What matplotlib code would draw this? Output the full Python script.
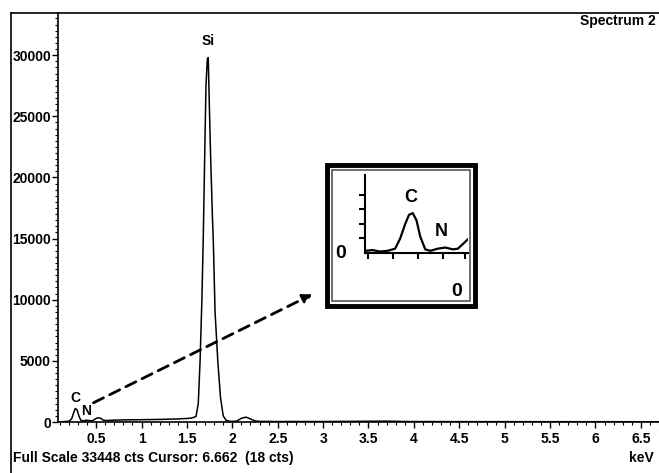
import numpy as np
import matplotlib.pyplot as plt
from matplotlib.patches import Rectangle
from matplotlib.lines import Line2D
from matplotlib.ticker import MultipleLocator

plt.rcParams['font.family'] = ['Liberation Sans Narrow', 'Liberation Sans', 'DejaVu Sans']
plt.rcParams['font.weight'] = 'bold'

# spectrum (keV, counts)
energy = [0.08, 0.12, 0.16, 0.20, 0.23, 0.25, 0.27, 0.29, 0.31, 0.33, 0.36, 0.39,
          0.42, 0.46, 0.49, 0.52, 0.55, 0.58, 0.62, 0.70, 0.80, 0.90, 1.00, 1.10,
          1.20, 1.30, 1.40, 1.50, 1.55, 1.60, 1.625, 1.645, 1.665, 1.68, 1.70,
          1.71, 1.725, 1.735, 1.745, 1.76, 1.78, 1.79, 1.81, 1.84, 1.87, 1.90,
          1.93, 1.97, 2.00, 2.05, 2.10, 2.15, 2.20, 2.25, 2.30, 2.50, 3.00,
          3.50, 3.70, 3.90, 4.50, 5.00, 5.50, 6.00, 6.50, 6.70]
counts = [0, 20, 40, 60, 250, 700, 1100, 1000, 500, 150, 80, 150,
          120, 100, 250, 350, 300, 150, 120, 150, 170, 180, 190, 200,
          210, 230, 250, 290, 320, 450, 1500, 5000, 10000, 15000, 23500,
          27500, 29700, 29800, 26500, 22000, 17000, 15000, 9000, 5000, 2000, 500,
          150, 60, 50, 80, 300, 400, 250, 90, 50, 40, 40,
          60, 70, 40, 30, 30, 25, 25, 20, 20]

# zoomed C / N region shown in the inset
inset_energy = [0.09, 0.12, 0.15, 0.18, 0.21, 0.23, 0.25, 0.265, 0.28, 0.295, 0.31,
                0.33, 0.35, 0.38, 0.41, 0.44, 0.46, 0.48, 0.50]
inset_counts = [60, 80, 40, 60, 120, 400, 800, 1050, 1100, 900, 450,
                100, 60, 120, 150, 100, 120, 250, 380]

fig = plt.figure(figsize=(6.59, 4.73), dpi=100)
W, H = 659, 473


def fx(px):
    return px / W


def fy(py):
    return 1 - py / H


ax = fig.add_axes([fx(58), fy(422), fx(659) - fx(58), fy(13) - fy(422)])
ax.plot(energy, counts, color='black', lw=1.1)
ax.set_xlim(0.08, 6.7)
ax.set_ylim(0, 33448)
for s in ['top', 'right']:
    ax.spines[s].set_visible(False)
ax.spines['left'].set_linewidth(1.2)
ax.spines['bottom'].set_linewidth(1.2)
ax.xaxis.set_minor_locator(MultipleLocator(0.1))
ax.yaxis.set_major_locator(MultipleLocator(5000))
ax.yaxis.set_minor_locator(MultipleLocator(500))
ax.set_xticks([0.5, 1, 1.5, 2, 2.5, 3, 3.5, 4, 4.5, 5, 5.5, 6, 6.5])
ax.set_xticklabels(['0.5', '1', '1.5', '2', '2.5', '3', '3.5', '4', '4.5', '5',
                    '5.5', '6', '6.5'])
ax.tick_params(which='major', length=4, width=1, labelsize=10, pad=3)
ax.tick_params(axis='y', which='major', pad=1)
ax.tick_params(which='minor', length=2, width=0.8)

ax.text(1.73, 30600, 'Si', ha='center', va='bottom', fontsize=10)
ax.text(0.27, 1350, 'C', ha='center', va='bottom', fontsize=10)
ax.text(0.39, 350, 'N', ha='center', va='bottom', fontsize=10)

# outer frame
fig.add_artist(Line2D([fx(11), 1], [fy(13), fy(13)], color='black', lw=1.2))
fig.add_artist(Line2D([fx(11), fx(11)], [fy(13), 0], color='black', lw=1.2))
fig.text(0.995, fy(21), 'Spectrum 2', ha='right', va='center', fontsize=10)
fig.text(fx(13), fy(458), 'Full Scale 33448 cts Cursor: 6.662  (18 cts)',
         ha='left', va='center', fontsize=10)
fig.text(0.992, fy(458), 'keV', ha='right', va='center', fontsize=10)

# inset box with double border
fig.add_artist(Rectangle((fx(327), fy(306)), fx(475) - fx(327), fy(165) - fy(306),
                         fill=True, facecolor='white', edgecolor='black', lw=3.5,
                         zorder=2))
fig.add_artist(Rectangle((fx(332), fy(301)), fx(470) - fx(332), fy(170) - fy(301),
                         fill=False, edgecolor='#555555', lw=1.2, zorder=2))

ins = fig.add_axes([fx(365), fy(253), fx(468) - fx(365), fy(175) - fy(253)])
ins.set_zorder(3)
ins.plot(inset_energy, inset_counts, color='black', lw=1.6)
ins.set_xlim(0.09, 0.5)
ins.set_ylim(0, 2150)
ins.patch.set_alpha(0)
for s in ['top', 'right']:
    ins.spines[s].set_visible(False)
ins.spines['left'].set_linewidth(1.5)
ins.spines['bottom'].set_linewidth(1.5)
ins.set_xticks([0.1, 0.2, 0.3, 0.4, 0.49])
ins.set_yticks([400, 800, 1200, 1600])
ins.tick_params(length=4, width=1.5, labelleft=False, labelbottom=False)
ins.text(0.272, 1300, 'C', ha='center', va='bottom', fontsize=13)
ins.text(0.395, 350, 'N', ha='center', va='bottom', fontsize=13)
fig.text(fx(341), fy(253), '0', ha='center', va='center', fontsize=14, zorder=4)
fig.text(fx(457), fy(292), '0', ha='center', va='center', fontsize=14, zorder=4)

# dashed arrow from the C/N peaks to the inset
ax.annotate('', xy=(fx(315), fy(293)), xycoords='figure fraction',
            xytext=(fx(91), fy(404)), textcoords='figure fraction',
            arrowprops=dict(arrowstyle='-|>', linestyle=(0, (4, 2.5)), lw=2,
                            color='black', mutation_scale=14))

fig.savefig('out.png', dpi=100)
